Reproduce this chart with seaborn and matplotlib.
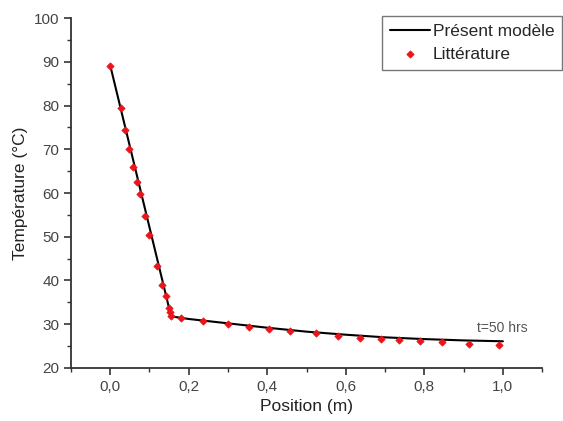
import numpy as np
import pandas as pd
import matplotlib
matplotlib.use("Agg")
import matplotlib.pyplot as plt
import seaborn as sns
from matplotlib.ticker import MultipleLocator, FuncFormatter

sns.set_style("ticks")
plt.rcParams['font.family'] = ['Liberation Sans', 'DejaVu Sans']

# modèle (ligne)
model_x = [0.0, 0.155, 0.2, 0.3, 0.4, 0.5, 0.6, 0.7, 0.8, 0.9, 1.0]
model_y = [89.2, 31.8, 31.2, 30.2, 29.2, 28.3, 27.6, 27.0, 26.6, 26.3, 26.1]

# littérature (points)
lit_x = [0.0, 0.027, 0.037, 0.048, 0.057, 0.067, 0.076, 0.089, 0.098, 0.119,
         0.131, 0.142, 0.149, 0.153, 0.154, 0.180, 0.236, 0.301, 0.354, 0.405,
         0.459, 0.523, 0.581, 0.635, 0.690, 0.736, 0.789, 0.845, 0.914, 0.990]
lit_y = [89.0, 79.4, 74.5, 70.1, 66.0, 62.6, 59.7, 54.8, 50.5, 43.4,
         39.0, 36.5, 33.8, 32.7, 31.8, 31.5, 30.7, 30.0, 29.4, 28.9,
         28.4, 27.9, 27.4, 26.9, 26.6, 26.4, 26.2, 25.9, 25.4, 25.3]

df_model = pd.DataFrame({"x": model_x, "y": model_y})
df_lit = pd.DataFrame({"x": lit_x, "y": lit_y})

fig = plt.figure(figsize=(5.63, 4.21), dpi=100)
ax = fig.add_axes([0.126, 0.126, 0.837, 0.831])

sns.lineplot(data=df_model, x="x", y="y", ax=ax, color="black", lw=1.5,
             label="Présent modèle")
sns.scatterplot(data=df_lit, x="x", y="y", ax=ax, color="#e8151b", marker="D",
                s=14, edgecolor="#e8151b", linewidth=0.5, label="Littérature", zorder=3)

ax.set_xlim(-0.1, 1.1)
ax.set_ylim(20, 100)
ax.xaxis.set_major_locator(MultipleLocator(0.2))
ax.xaxis.set_minor_locator(MultipleLocator(0.1))
ax.yaxis.set_major_locator(MultipleLocator(10))
ax.yaxis.set_minor_locator(MultipleLocator(5))
ax.xaxis.set_major_formatter(FuncFormatter(lambda v, p: f"{v:.1f}".replace(".", ",")))
ax.tick_params(which="major", length=5, width=1.2, labelsize=11, colors="#333333",
               labelcolor="#444444")
ax.tick_params(which="minor", length=3, width=1.0, colors="#333333")
for s in ["top", "right"]:
    ax.spines[s].set_visible(False)
for s in ["left", "bottom"]:
    ax.spines[s].set_linewidth(1.3)
    ax.spines[s].set_color("#333333")

ax.set_xlabel("Position (m)", fontsize=12.5, color="#222222")
ax.set_ylabel("Température (°C)", fontsize=12.5, color="#222222")

ax.text(0.934, 29.1, "t=50 hrs", fontsize=10, color="#555555", va="center")

leg = ax.legend(loc="upper right", bbox_to_anchor=(0.999, 0.962),
                bbox_transform=fig.transFigure, frameon=True, fancybox=False,
                fontsize=12.5, handlelength=2.3, borderpad=0.45, labelspacing=0.45,
                handletextpad=0.2, borderaxespad=0)
leg.get_frame().set_edgecolor("#555555")
leg.get_frame().set_linewidth(1.0)

fig.savefig("out.png", dpi=100)
